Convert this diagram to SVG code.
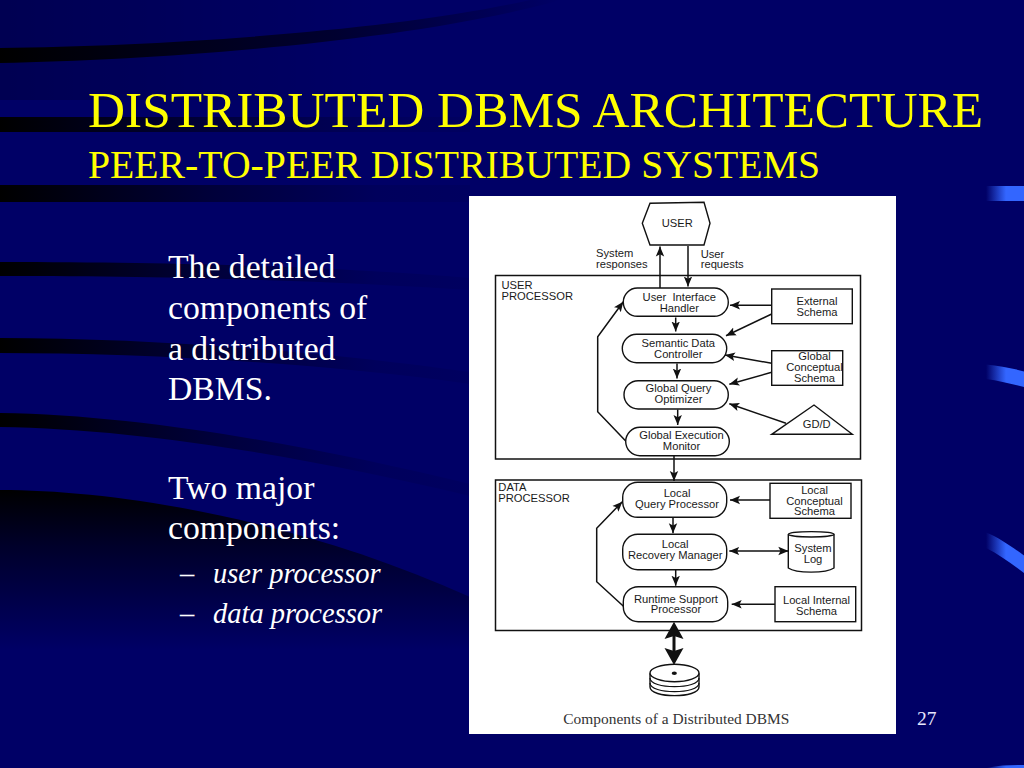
<svg xmlns="http://www.w3.org/2000/svg" width="1024" height="768" viewBox="0 0 1024 768">
<style>
.title{font-family:"Liberation Serif",serif;fill:#ffff00}
.body{font-family:"Liberation Serif",serif;fill:#fff;font-size:33.7px}
.sub{font-family:"Liberation Serif",serif;fill:#fff;font-size:28.5px;font-style:italic}
.t{font-family:"Liberation Sans",sans-serif;font-size:11.2px;fill:#1a1a1a}
.m{text-anchor:middle}
.box{fill:#fff;stroke:#111;stroke-width:1.4}
.frame{fill:none;stroke:#111;stroke-width:1.5}
.c{fill:none;stroke:#111;stroke-width:1.5;marker-end:url(#a)}
.tab{fill:url(#tabg)}
</style>
<defs>
<linearGradient id="band" gradientUnits="userSpaceOnUse" x1="0" y1="0" x2="470" y2="0">
<stop offset="0" stop-color="#000"/><stop offset=".1" stop-color="#00000c"/><stop offset=".45" stop-color="#00003a"/><stop offset=".8" stop-color="#00005c"/><stop offset="1" stop-color="#000060"/>
</linearGradient>
<linearGradient id="bandTop" gradientUnits="userSpaceOnUse" x1="0" y1="0" x2="560" y2="0">
<stop offset="0" stop-color="#000"/><stop offset=".6" stop-color="#000030"/><stop offset="1" stop-color="#000066"/>
</linearGradient>
<linearGradient id="big" gradientUnits="userSpaceOnUse" x1="0" y1="490" x2="0" y2="650">
<stop offset="0" stop-color="#000"/><stop offset=".35" stop-color="#00002a"/><stop offset="1" stop-color="#000066"/>
</linearGradient>
<linearGradient id="hood" gradientUnits="userSpaceOnUse" x1="0" y1="0" x2="380" y2="0">
<stop offset="0" stop-color="#000" stop-opacity=".2"/><stop offset="1" stop-color="#000" stop-opacity="0"/>
</linearGradient>
<linearGradient id="tabg" gradientUnits="userSpaceOnUse" x1="986" y1="0" x2="1006" y2="0">
<stop offset="0" stop-color="#000066"/><stop offset="1" stop-color="#3366ff"/>
</linearGradient>
<marker id="a" markerUnits="userSpaceOnUse" markerWidth="12" markerHeight="10" refX="10" refY="5" orient="auto">
<path d="M0 0.8L10 5L0 9.2L2.2 5Z" fill="#111"/>
</marker>
<marker id="as" markerUnits="userSpaceOnUse" markerWidth="12" markerHeight="10" refX="0" refY="5" orient="auto">
<path d="M10 0.8L0 5L10 9.2L7.8 5Z" fill="#111"/>
</marker>
</defs>

<g id="background">
<rect width="1024" height="768" fill="#000066"/>
<rect width="380" height="100" fill="url(#hood)"/>
<path fill="url(#bandTop)" d="M0 48C170 46 400 30 530 0L560 0C420 40 170 60 0 63Z"/>
<rect y="117" width="470" height="15" fill="url(#band)"/>
<rect y="185" width="470" height="17" fill="url(#band)"/>
<path fill="url(#band)" d="M0 262C200 262 350 268 470 278L470 290C350 282 200 276 0 276Z"/>
<path fill="url(#band)" d="M0 338C150 338 330 352 470 372L470 384C330 364 150 353 0 353Z"/>
<path fill="url(#band)" d="M0 413C150 415 330 450 470 484L470 496C330 462 150 429 0 427Z"/>
<path fill="url(#big)" d="M0 490C120 490 300 520 470 597L470 650L0 650Z"/>
<rect class="tab" x="986" y="186" width="38" height="15"/>
<path class="tab" d="M986 364.5C1000 366 1012 368 1024 371.5L1024 387C1012 384 1000 381 986 379Z"/>
<path class="tab" d="M986 532.5C1000 538 1012 547 1024 555.5L1024 573C1012 564 1000 555 986 548Z"/>
<path class="tab" d="M986 768C1000 765 1012 765 1024 765L1024 768Z"/>
</g>

<g id="slide-text">
<text class="title" x="88" y="126.5" font-size="51" textLength="895" lengthAdjust="spacingAndGlyphs">DISTRIBUTED DBMS ARCHITECTURE</text>
<text class="title" x="88" y="177.5" font-size="39" textLength="732" lengthAdjust="spacingAndGlyphs">PEER-TO-PEER DISTRIBUTED SYSTEMS</text>
<text class="body" x="168" y="278">The detailed</text>
<text class="body" x="168" y="319">components of</text>
<text class="body" x="168" y="360">a distributed</text>
<text class="body" x="168" y="400">DBMS.</text>
<text class="body" x="168" y="499">Two major</text>
<text class="body" x="168" y="539">components:</text>
<text class="sub" x="180" y="583" style="font-style:normal">–</text>
<text class="sub" x="213" y="583">user processor</text>
<text class="sub" x="180" y="623" style="font-style:normal">–</text>
<text class="sub" x="213" y="623">data processor</text>
<text x="917" y="725" font-family="Liberation Serif, serif" font-size="19.5" fill="#e8e8ff">27</text>
</g>

<rect id="figure-panel" x="469" y="196" width="427" height="538" fill="#fff"/>

<g id="user-processor">
<rect class="frame" x="495.5" y="275.5" width="365" height="183.5"/>
<text class="t" x="501.5" y="289">USER</text>
<text class="t" x="501.5" y="299.7">PROCESSOR</text>
</g>
<g id="data-processor">
<rect class="frame" x="495.5" y="480" width="366" height="150.5"/>
<text class="t" x="498.3" y="491">DATA</text>
<text class="t" x="498.3" y="501.7">PROCESSOR</text>
</g>

<g id="connectors">
<path class="c" d="M660 288V246.5"/>
<path class="c" d="M688 246V286.5"/>
<path class="c" d="M675.7 317.5V331.5"/>
<path class="c" d="M677 363.5V378.5"/>
<path class="c" d="M677.7 409.5V425"/>
<path class="c" d="M674 456V481"/>
<path class="c" d="M771.7 305.3H730"/>
<path class="c" d="M771.7 314L726 335.7"/>
<path class="c" d="M771.7 363.3L725 355"/>
<path class="c" d="M771.7 372.3L729.3 384.3"/>
<path class="c" d="M786 423.3L729.3 403.7"/>
<path class="c" d="M625.7 441L597.7 411.7V336.7L623.3 301.7"/>
<path class="c" d="M673 517.7V533.3"/>
<path class="c" d="M675.7 570V585.7"/>
<path class="c" d="M770 500H730"/>
<path class="c" d="M788.3 551H729.3" style="marker-start:url(#as)"/>
<path class="c" d="M775 604.3H731.7"/>
<path class="c" d="M624 606.7L596.7 581.7V528.3L622.3 501.7"/>
<path fill="none" stroke="#111" stroke-width="3" d="M674 636V652"/>
<path fill="#111" d="M674 621.7L683.5 639L674 636L664.5 639Z"/>
<path fill="#111" d="M674 665L683.5 648L674 651L664.5 648Z"/>
</g>

<g id="user">
<path class="box" d="M642.3 223.3L650 203.3L704 202.3L710 223.3L704 245H650Z"/>
<text class="t m" x="677.3" y="227.3">USER</text>
</g>
<text class="t" x="596" y="257.3">System</text>
<text class="t" x="596" y="267.7">responses</text>
<text class="t" x="700.7" y="257.7">User</text>
<text class="t" x="700.7" y="268.3">requests</text>

<g id="user-interface-handler">
<rect class="box" x="623.3" y="288" width="105" height="28.3" rx="14.15"/>
<text class="t m" x="679.3" y="301" xml:space="preserve">User  Interface</text>
<text class="t m" x="679.3" y="312">Handler</text>
</g>
<g id="semantic-data-controller">
<rect class="box" x="622.3" y="334.3" width="104.4" height="28.4" rx="14.2"/>
<text class="t m" x="678.3" y="347.3">Semantic Data</text>
<text class="t m" x="678.3" y="358.3">Controller</text>
</g>
<g id="global-query-optimizer">
<rect class="box" x="624" y="380.7" width="104.3" height="28.3" rx="14.15"/>
<text class="t m" x="678.5" y="392.3">Global Query</text>
<text class="t m" x="678.5" y="403.3">Optimizer</text>
</g>
<g id="global-execution-monitor">
<rect class="box" x="625.7" y="427.3" width="103.6" height="28.4" rx="14.2"/>
<text class="t m" x="681.5" y="439">Global Execution</text>
<text class="t m" x="681.5" y="450">Monitor</text>
</g>
<g id="external-schema">
<rect class="box" x="771.7" y="289" width="80.6" height="34.7"/>
<text class="t m" x="817" y="305.3">External</text>
<text class="t m" x="817" y="315.7">Schema</text>
</g>
<g id="global-conceptual-schema">
<rect class="box" x="771.7" y="350.7" width="71" height="34.6"/>
<text class="t m" x="814.5" y="360">Global</text>
<text class="t m" x="814.5" y="371">Conceptual</text>
<text class="t m" x="814.5" y="381.7">Schema</text>
</g>
<g id="gdd">
<path class="box" d="M771.7 434.3H852.3L814 405Z"/>
<text class="t m" x="816.7" y="427.7">GD/D</text>
</g>

<g id="local-query-processor">
<rect class="box" x="622.7" y="482.3" width="104" height="35" rx="15"/>
<text class="t m" x="677" y="497.3">Local</text>
<text class="t m" x="677" y="507.7">Query Processor</text>
</g>
<g id="local-recovery-manager">
<rect class="box" x="622.7" y="534.3" width="104" height="35.4" rx="15"/>
<text class="t m" x="675.2" y="548.3">Local</text>
<text class="t m" x="675.2" y="559.3">Recovery Manager</text>
</g>
<g id="runtime-support-processor">
<rect class="box" x="623.3" y="586.7" width="104.4" height="35" rx="15"/>
<text class="t m" x="676" y="603">Runtime Support</text>
<text class="t m" x="676" y="613.3">Processor</text>
</g>
<g id="local-conceptual-schema">
<rect class="box" x="770" y="483.3" width="81" height="35"/>
<text class="t m" x="814.5" y="494">Local</text>
<text class="t m" x="814.5" y="504.7">Conceptual</text>
<text class="t m" x="814.5" y="515">Schema</text>
</g>
<g id="system-log">
<path class="box" d="M788.3 534.3V568C796 573.5 826 573.5 834 568V534.3"/>
<ellipse class="box" cx="811.2" cy="534.3" rx="22.8" ry="2.7"/>
<text class="t m" x="813" y="551.7">System</text>
<text class="t m" x="813" y="562.7">Log</text>
</g>
<g id="local-internal-schema">
<rect class="box" x="775" y="586.7" width="80.7" height="35"/>
<text class="t m" x="816.5" y="604.3">Local Internal</text>
<text class="t m" x="816.5" y="615">Schema</text>
</g>
<g id="disk">
<path class="box" d="M650 673.3V687C650 698.5 699 698.5 699 687V673.3"/>
<path fill="none" stroke="#111" stroke-width="1.2" d="M650 678C650 689.5 699 689.5 699 678M650 683C650 694.5 699 694.5 699 683"/>
<ellipse class="box" cx="674.5" cy="673" rx="24.5" ry="8.7"/>
<ellipse cx="674.3" cy="673.3" rx="2.6" ry="1.7" fill="#111"/>
</g>
<text x="563.3" y="723.5" font-family="Liberation Serif, serif" font-size="14.5" fill="#333" textLength="226" lengthAdjust="spacingAndGlyphs">Components of a Distributed DBMS</text>
</svg>
